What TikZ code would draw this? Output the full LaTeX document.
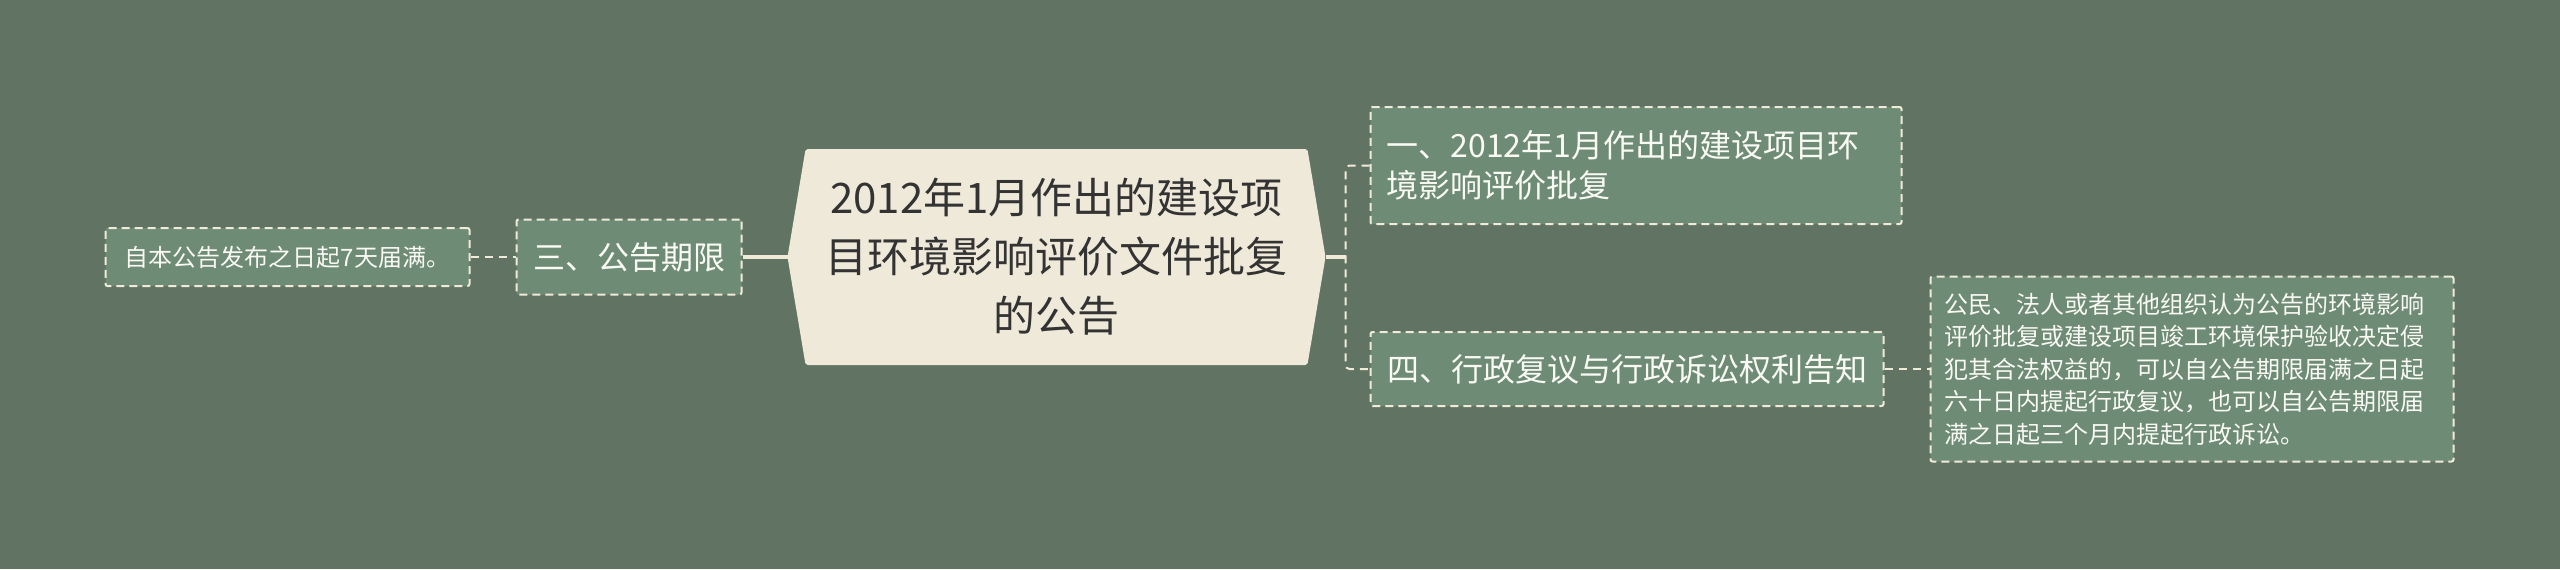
\documentclass[tikz,border=0pt]{standalone}
\usepackage{fontspec}
\setmainfont{Noto Sans CJK SC}
\usepackage{tikz}
\usetikzlibrary{positioning,shapes.symbols}
\definecolor{Board}{RGB}{97,115,99}
\definecolor{Leaf}{RGB}{109,139,117}
\definecolor{Cream}{RGB}{240,235,216}
\definecolor{Paper}{RGB}{239,233,217}
\definecolor{Ink}{RGB}{51,51,51}
\definecolor{Chalk}{RGB}{250,250,244}

\begin{document}
\begin{tikzpicture} [x=1pt, y=1pt,
       Cream, text=Chalk, line width=1pt, rounded corners=1pt,
       every node/.style={font=\fontsize{16}{20}\selectfont},
       topic/.style = {signal, signal to=west and east, signal pointer angle=161,
                       fill=Paper, text=Ink, align=center, inner sep=0pt, outer sep=0pt,
                       minimum width=269pt, minimum height=108pt,
                       font=\fontsize{21}{29.5}\selectfont},
       branch/.style 2 args = {rectangle, draw=Cream, fill=Leaf, dash pattern=on 4pt off 2.5pt,
                       minimum width=#1, minimum height=#2, inner xsep=8pt, inner ysep=0pt,
                       align=center},
       note/.style = {font=\fontsize{12}{16.25}\selectfont},
       trunk/.style = {line width=2pt, rounded corners=0pt},
       twig/.style = {line width=1pt, dash pattern=on 4pt off 3pt, rounded corners=2pt}]
	%% Canvas
	\fill[Board, sharp corners] (0,0) rectangle (1280,-284.5);
	\useasboundingbox (0,0) rectangle (1280,-284.5);

	%% Root
	\node [topic] (root) at (528.25,-128.5) {2012年1月作出的建设项\\目环境影响评价文件批复\\的公告};

	%% Left side
	\node [branch={112.5pt}{37.5pt}, left = 22.5pt of root.west] (part3) {三、公告期限};
	\node [branch={182pt}{29pt}, note, left = 22.5pt of part3.west] (note3) {自本公告发布之日起7天届满。};

	%% Right side
	\node [branch={265.5pt}{58.5pt}, align=left, text width=249.5pt,
	       right = 22pt of root.east, yshift=45.75pt] (part1)
	      {一、2012年1月作出的建设项目环\\境影响评价批复};
	\node [branch={256.5pt}{37pt}, right = 22pt of root.east, yshift=-56pt] (part4)
	      {四、行政复议与行政诉讼权利告知};
	\node [branch={261.5pt}{92.5pt}, note, align=left, text width=247.5pt, inner xsep=7pt,
	       right = 22.5pt of part4.east] (note4)
	      {公民、法人或者其他组织认为公告的环境影响\\评价批复或建设项目竣工环境保护验收决定侵\\犯其合法权益的，可以自公告期限届满之日起\\六十日内提起行政复议，也可以自公告期限届\\满之日起三个月内提起行政诉讼。};

	%% Paths
	\coordinate [right = 10pt of root.east] (fork);
	\draw[trunk] (part3.east) -- (root.west);
	\draw[twig] (note3.east) -- (part3.west);
	\draw[trunk] (root.east) -- (fork);
	\draw[twig] (part1.west) -| (fork) |- (part4.west);
	\draw[twig] (part4.east) -- (note4.west);
\end{tikzpicture}
\end{document}
